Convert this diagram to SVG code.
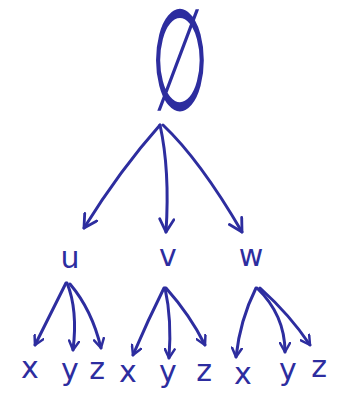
<svg xmlns="http://www.w3.org/2000/svg" width="340" height="403" viewBox="0 0 340 403">
<style>
.e{fill:none;stroke:#2d2d9f;stroke-width:3;stroke-linecap:round;stroke-linejoin:round}
.t{font-family:"DejaVu Sans",sans-serif;fill:#2d2d9f;text-anchor:middle}
.s{font-size:30px}
</style>
<defs>
<marker id="a" viewBox="0 0 12 12" refX="10" refY="6" markerWidth="12" markerHeight="12" markerUnits="userSpaceOnUse" orient="auto">
<path d="M1,1 L10,6 L1,11" fill="none" stroke="#2d2d9f" stroke-width="2.5" stroke-linecap="round" stroke-linejoin="round"/>
</marker>
<marker id="b" viewBox="0 0 12 12" refX="10" refY="6" markerWidth="17" markerHeight="17" markerUnits="userSpaceOnUse" orient="auto">
<path d="M1,1 L10,6 L1,11" fill="none" stroke="#2d2d9f" stroke-width="2" stroke-linecap="round" stroke-linejoin="round"/>
</marker>
</defs>
<rect width="340" height="403" fill="#ffffff"/>
<g id="root"><text class="t" transform="translate(180,110) scale(0.7,1.5)" x="0" y="0" font-size="95">∅</text></g>
<g id="u"><text class="t s" x="70" y="268">u</text></g>
<g id="v"><text class="t s" x="168" y="266">v</text></g>
<g id="w"><text class="t s" x="251" y="266">w</text></g>
<g id="u-x"><text class="t s" x="30" y="378">x</text></g>
<g id="u-y"><text class="t s" x="70" y="380">y</text></g>
<g id="u-z"><text class="t s" x="97" y="379">z</text></g>
<g id="v-x"><text class="t s" x="128" y="382">x</text></g>
<g id="v-y"><text class="t s" x="168" y="382">y</text></g>
<g id="v-z"><text class="t s" x="204" y="381">z</text></g>
<g id="w-x"><text class="t s" x="243" y="384">x</text></g>
<g id="w-y"><text class="t s" x="288" y="380">y</text></g>
<g id="w-z"><text class="t s" x="319" y="377">z</text></g>
<g id="connectors" class="e">
<path d="M160,125 Q120,170 84,228" marker-end="url(#b)"/>
<path d="M160,125 Q170,170 166,232" marker-end="url(#b)"/>
<path d="M163,125 Q200,160 242,232" marker-end="url(#b)"/>
<path d="M66,283 Q50,315 35,345" marker-end="url(#a)"/>
<path d="M67,283 Q78,310 73,350" marker-end="url(#a)"/>
<path d="M70,284 Q92,310 101,348" marker-end="url(#a)"/>
<path d="M164,288 Q148,320 133,355" marker-end="url(#a)"/>
<path d="M165,288 Q172,320 169,358" marker-end="url(#a)"/>
<path d="M166,288 Q190,315 205,345" marker-end="url(#a)"/>
<path d="M256,288 Q240,320 236,357" marker-end="url(#a)"/>
<path d="M257,288 Q285,315 285,352" marker-end="url(#a)"/>
<path d="M260,288 Q290,315 310,345" marker-end="url(#a)"/>
</g>
</svg>
